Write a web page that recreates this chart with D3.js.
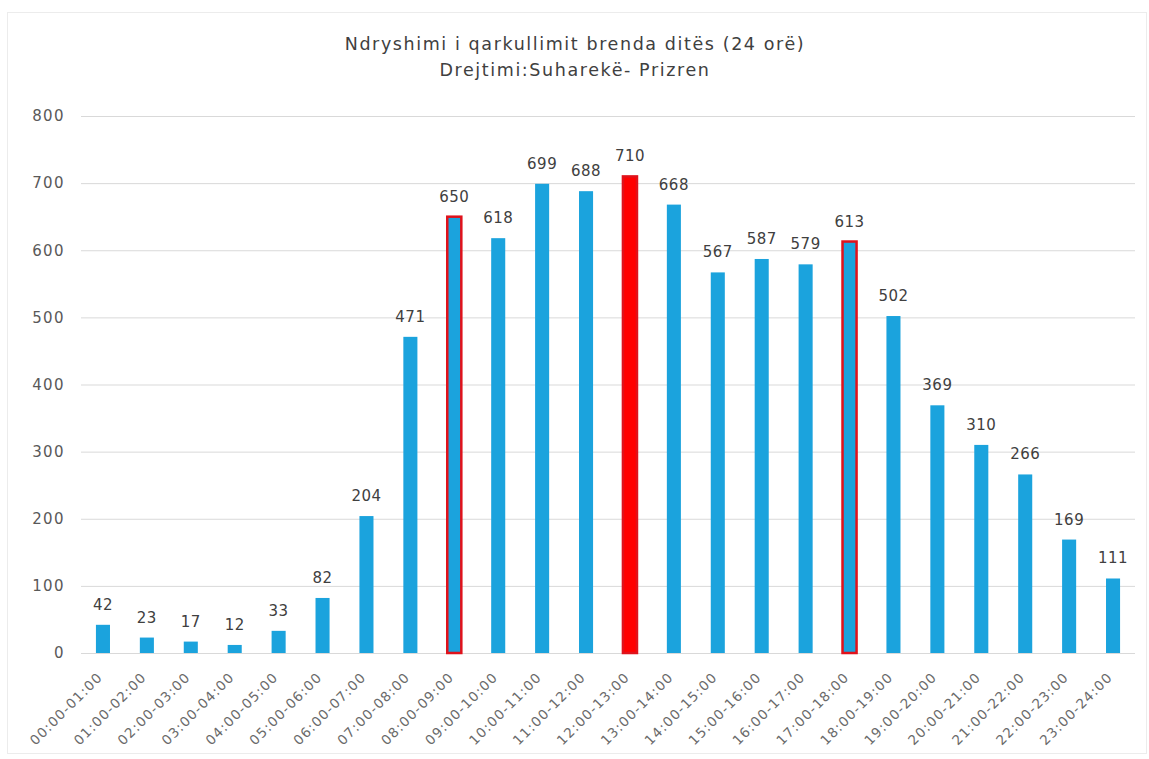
<!DOCTYPE html>
<html>
<head>
<meta charset="utf-8">
<script src="https://cdn.jsdelivr.net/npm/d3@7"></script>
<style>
  body { margin: 0; background: #fff; }
  svg { display: block; font-family: "DejaVu Sans", sans-serif; }
</style>
</head>
<body>
<div id="chart"></div>
<script>
// kategorite (oret) dhe vlerat
const hours = ["00:00-01:00", "01:00-02:00", "02:00-03:00", "03:00-04:00", "04:00-05:00", "05:00-06:00",
    "06:00-07:00", "07:00-08:00", "08:00-09:00", "09:00-10:00", "10:00-11:00", "11:00-12:00",
    "12:00-13:00", "13:00-14:00", "14:00-15:00", "15:00-16:00", "16:00-17:00", "17:00-18:00",
    "18:00-19:00", "19:00-20:00", "20:00-21:00", "21:00-22:00", "22:00-23:00", "23:00-24:00"];
const counts = [42, 23, 17, 12, 33, 82, 204, 471, 650, 618, 699, 688, 710, 668, 567, 587, 579, 613, 502, 369, 310, 266, 169, 111];
const outlined = ["08:00-09:00", "17:00-18:00"];   // oret e pikut (kornize e kuqe)
const peak = ["12:00-13:00"];                       // ora me qarkullim maksimal
const yTicks = [0, 100, 200, 300, 400, 500, 600, 700, 800];
const titleLines = ["Ndryshimi i qarkullimit brenda ditës (24 orë)", "Drejtimi:Suharekë- Prizren"];

const width = 1149, height = 759;
const margin = { top: 116, right: 14, bottom: 106, left: 81 };

const data = hours.map((h, i) => ({ hour: h, count: counts[i] }));

const svg = d3.select("#chart").append("svg")
    .attr("width", width)
    .attr("height", height);

// kornize e lehte rreth grafikut
svg.append("rect")
    .attr("x", 7.5).attr("y", 12.5)
    .attr("width", width - 10).attr("height", height - 18)
    .attr("fill", "none")
    .attr("stroke", "#ececec");

const x = d3.scaleBand()
    .domain(hours)
    .range([margin.left, width - margin.right])
    .paddingInner(0.68)
    .paddingOuter(0.34);

const y = d3.scaleLinear()
    .domain([0, 800])
    .range([height - margin.bottom, margin.top]);

// titulli
svg.append("g").selectAll("text")
    .data(titleLines)
    .join("text")
    .attr("x", 575)
    .attr("y", (d, i) => 50 + i * 26)
    .attr("text-anchor", "middle")
    .attr("font-size", 17.5)
    .attr("letter-spacing", 1.6)
    .attr("fill", "#404040")
    .text(d => d);

// boshti Y me vija rrjete
const yAxis = svg.append("g")
    .attr("transform", "translate(" + margin.left + ",0)")
    .call(d3.axisLeft(y).tickValues(yTicks).tickSize(-(width - margin.left - margin.right)).tickPadding(16));
yAxis.select(".domain").remove();
yAxis.selectAll(".tick line").attr("stroke", "#d9d9d9");
yAxis.selectAll(".tick text")
    .attr("font-size", 15)
    .attr("letter-spacing", 1.4)
    .attr("fill", "#595959")
    .attr("font-family", "DejaVu Sans, sans-serif");

// boshti X
const xAxis = svg.append("g")
    .attr("transform", "translate(0," + y(0) + ")")
    .call(d3.axisBottom(x).tickSize(0));
xAxis.select(".domain").remove();
xAxis.selectAll(".tick text")
    .attr("font-size", 13.5)
    .attr("letter-spacing", 1.2)
    .attr("fill", "#6a6a6a")
    .attr("font-family", "DejaVu Sans, sans-serif")
    .attr("text-anchor", "end")
    .attr("x", -17.5)
    .attr("y", 18)
    .attr("dy", 0)
    .attr("transform", "rotate(-45)");

// shtyllat
svg.append("g").selectAll("rect")
    .data(data)
    .join("rect")
    .attr("x", d => x(d.hour))
    .attr("y", d => y(d.count))
    .attr("width", x.bandwidth())
    .attr("height", d => y(0) - y(d.count))
    .attr("fill", d => peak.includes(d.hour) ? "#ff0000" : "#1ba3dd")
    .attr("stroke", d => (outlined.includes(d.hour) || peak.includes(d.hour)) ? "#e0121b" : "none")
    .attr("stroke-width", 2.5);

// etiketat e vlerave
svg.append("g").selectAll("text")
    .data(data)
    .join("text")
    .attr("x", d => x(d.hour) + x.bandwidth() / 2)
    .attr("y", d => y(d.count) - 15)
    .attr("text-anchor", "middle")
    .attr("font-size", 15)
    .attr("letter-spacing", 0.5)
    .attr("fill", "#404040")
    .text(d => d.count);
</script>
</body>
</html>
